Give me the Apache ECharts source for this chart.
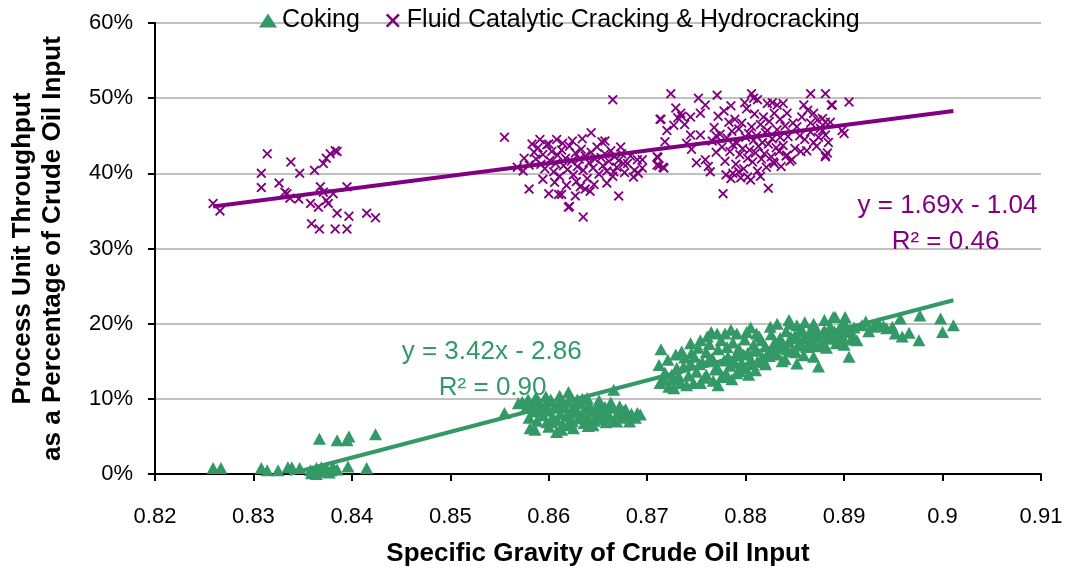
<!DOCTYPE html>
<html>
<head>
<meta charset="utf-8">
<script src="https://cdn.jsdelivr.net/npm/echarts@6/dist/echarts.min.js"></script>
<style>
  html, body { margin: 0; padding: 0; background: #fff; }
  #chart { width: 1065px; height: 574px; }
</style>
</head>
<body>
<div id="chart"></div>
<script>
// Specific gravity (x) vs. process unit throughput in % of crude input (y)
const cokingPoints = [
  [0.8259,0.8],[0.8267,0.8],[0.8308,0.8],[0.8314,0.5],[0.8325,0.5],[0.8335,0.9],[0.8339,0.9],[0.8347,0.8],
  [0.8358,0.5],[0.8359,0.1],[0.8364,0.8],[0.8364,0.0],[0.8369,0.9],[0.8374,0.8],[0.8379,0.5],[0.8385,0.6],
  [0.8367,4.7],[0.8385,4.5],[0.8395,4.5],[0.8397,5.0],[0.8396,1.0],[0.8415,0.8],[0.8424,5.3],[0.8371,0.3],
  [0.8377,0.2],[0.8381,0.9],
  [0.8555,8.1],[0.8569,9.4],[0.8573,9.6],[0.8620,10.9],[0.8666,11.2],[0.8581,6.1],[0.8586,5.9],[0.8608,5.6],
  [0.8613,5.9],[0.8690,8.1],[0.8693,7.9],
  [0.8577,8.8],[0.8580,7.5],[0.8583,9.2],[0.8585,8.3],[0.8588,7.1],[0.8590,9.6],[0.8592,8.6],[0.8594,7.8],
  [0.8596,9.0],[0.8598,6.9],[0.8600,8.4],[0.8602,9.9],[0.8604,7.6],[0.8606,8.8],[0.8608,7.2],[0.8610,9.3],
  [0.8612,8.0],[0.8614,6.6],[0.8616,8.9],[0.8618,7.7],[0.8620,9.6],[0.8622,8.2],[0.8624,7.0],[0.8626,9.1],
  [0.8628,8.5],[0.8630,7.4],[0.8632,9.4],[0.8634,8.0],[0.8636,6.8],[0.8638,8.7],[0.8640,7.5],[0.8642,9.0],
  [0.8644,8.3],[0.8646,7.1],[0.8648,8.6],[0.8650,7.8],[0.8652,9.2],[0.8654,7.3],[0.8656,8.4],[0.8658,6.9],
  [0.8660,8.0],[0.8662,7.6],[0.8664,8.8],[0.8667,7.2],[0.8670,8.1],[0.8673,7.5],[0.8676,8.3],[0.8680,7.7],
  [0.8684,8.0],[0.8600,6.3],[0.8625,6.1],[0.8640,6.4],[0.8597,10.3],[0.8634,10.0],
  [0.8579,9.9],[0.8587,10.2],[0.8603,6.9],[0.8611,10.4],[0.8619,6.5],[0.8629,9.9],[0.8639,10.1],[0.8645,6.5],
  [0.8651,9.8],[0.8657,8.9],[0.8663,9.5],[0.8669,7.0],[0.8672,9.0],[0.8678,8.6],[0.8682,7.0],[0.8688,7.5],
  [0.8713,12.1],[0.8714,16.6],[0.8712,14.5],[0.8717,12.5],[0.8722,11.6],[0.8727,11.4],[0.8730,14.1],[0.8735,16.3],
  [0.8744,17.4],[0.8744,14.7],[0.8734,12.1],[0.8740,11.8],[0.8747,12.1],[0.8754,12.1],[0.8772,11.8],[0.8779,12.9],
  [0.8791,13.4],[0.8810,13.8],[0.8754,17.8],[0.8761,18.3],[0.8771,18.7],[0.8779,18.7],[0.8791,18.7],[0.8801,18.9],
  [0.8811,18.7],[0.8832,20.0],[0.8844,20.5],[0.8852,19.8],[0.8869,20.0],[0.8852,14.7],[0.8874,14.3],[0.8859,15.8],
  [0.8869,15.6],[0.8889,20.9],[0.8957,20.7],[0.8977,21.1],[0.8998,20.7],[0.9011,19.8],[0.8959,18.3],[0.8966,18.8],
  [0.8976,17.8],[0.9000,18.9],[0.8905,15.6],[0.8891,20.9],[0.8901,20.9],[0.8922,20.3],[0.8930,19.6],[0.8943,19.4],
  [0.8949,19.6],[0.8952,18.7],[0.8909,18.2],[0.8913,17.8],
  [0.8748,15.6],[0.8752,16.8],[0.8756,14.9],[0.8760,16.2],[0.8763,17.3],[0.8766,15.4],[0.8769,13.9],[0.8772,16.6],
  [0.8775,17.8],[0.8778,15.1],[0.8781,16.9],[0.8784,14.4],[0.8787,17.5],[0.8790,15.8],[0.8793,16.7],[0.8796,14.8],
  [0.8799,17.9],[0.8802,16.1],[0.8805,15.2],[0.8808,17.2],[0.8811,16.4],[0.8814,18.3],[0.8817,15.5],[0.8820,17.0],
  [0.8823,16.2],[0.8826,18.6],[0.8829,17.4],[0.8832,15.9],[0.8835,18.1],[0.8838,16.8],[0.8841,19.0],[0.8844,17.6],
  [0.8847,16.3],[0.8850,18.4],[0.8853,17.1],[0.8856,19.2],[0.8859,18.0],[0.8862,16.9],[0.8865,18.8],[0.8868,17.6],
  [0.8871,19.4],[0.8874,18.3],[0.8877,17.2],[0.8880,19.1],[0.8883,18.0],[0.8886,19.6],[0.8889,18.5],[0.8892,17.4],
  [0.8895,19.3],[0.8898,18.4],[0.8901,19.9],[0.8904,18.9],[0.8907,17.9],[0.8780,13.4],[0.8800,14.1],[0.8760,13.2],
  [0.8820,14.6],[0.8840,15.3],[0.8725,13.2],[0.8738,15.5],[0.8765,18.9],[0.8785,19.2],[0.8805,19.5],[0.8825,19.6],
  [0.8845,20.0],[0.8860,20.2],[0.8880,20.5],
  [0.8718,13.5],[0.8721,15.2],[0.8726,12.6],[0.8729,15.9],[0.8732,13.0],[0.8737,14.3],[0.8742,13.1],[0.8745,16.1],
  [0.8750,13.6],[0.8753,14.6],[0.8758,12.8],[0.8762,15.0],[0.8767,12.4],[0.8771,14.2],[0.8776,13.0],[0.8782,15.6],
  [0.8786,12.6],[0.8789,14.8],[0.8794,13.7],[0.8798,15.9],[0.8803,13.2],[0.8807,14.6],[0.8812,15.0],[0.8816,17.8],
  [0.8819,14.9],[0.8824,15.7],[0.8828,16.2],[0.8833,17.0],[0.8837,15.0],[0.8842,16.6],[0.8846,18.2],[0.8851,16.2],
  [0.8855,17.5],[0.8858,19.0],[0.8864,17.3],[0.8867,19.3],[0.8873,17.0],[0.8878,18.7],[0.8882,16.8],[0.8885,18.2],
  [0.8890,19.0],[0.8894,18.0],[0.8897,19.6],[0.8900,17.2],[0.8906,19.2],[0.8910,19.5],[0.8918,19.8],[0.8925,19.0],
  [0.8935,20.1],[0.8940,19.7]
];

const crackingPoints = [
  [0.8259,36.0],[0.8266,35.0],[0.8314,42.6],[0.8308,40.0],[0.8308,38.1],[0.8326,38.7],[0.8338,41.5],[0.8334,37.3],
  [0.8337,36.7],[0.8347,40.0],[0.8346,36.6],[0.8358,36.0],[0.8362,40.4],[0.8366,35.5],[0.8359,33.3],[0.8367,32.6],
  [0.8368,38.2],[0.8371,41.3],[0.8374,42.0],[0.8378,42.6],[0.8383,43.0],[0.8385,42.9],[0.8371,37.5],[0.8374,36.4],
  [0.8376,36.0],[0.8381,37.3],[0.8385,34.7],[0.8383,32.6],[0.8395,38.2],[0.8397,34.3],[0.8395,32.6],[0.8415,34.7],
  [0.8424,34.1],[0.8332,37.5],
  [0.8555,44.8],[0.8568,40.8],[0.8574,40.3],[0.8580,37.9],[0.8591,44.5],[0.8600,37.3],[0.8608,44.5],[0.8610,37.2],
  [0.8613,37.2],[0.8620,35.5],[0.8621,35.6],[0.8624,44.3],[0.8627,37.0],[0.8635,34.2],[0.8637,37.9],[0.8643,45.4],
  [0.8657,44.3],[0.8659,38.7],[0.8665,49.8],[0.8671,37.0],[0.8673,43.5],[0.8676,41.3],[0.8690,41.8],[0.8687,40.4],
  [0.8691,40.0],[0.8710,42.2],[0.8712,41.0],[0.8716,40.8],[0.8713,47.2],
  [0.8585,42.8],[0.8587,41.9],[0.8589,43.4],[0.8592,41.2],[0.8594,42.5],[0.8596,40.6],[0.8598,43.8],[0.8601,41.7],
  [0.8603,42.9],[0.8605,40.2],[0.8607,41.3],[0.8609,42.4],[0.8611,39.6],[0.8613,43.1],[0.8615,41.0],[0.8617,42.0],
  [0.8619,40.5],[0.8621,43.6],[0.8623,41.6],[0.8625,39.8],[0.8627,42.7],[0.8629,40.9],[0.8631,41.9],[0.8633,43.2],
  [0.8635,40.4],[0.8637,42.3],[0.8639,39.3],[0.8641,41.4],[0.8643,42.8],[0.8645,40.7],[0.8647,41.9],[0.8649,43.5],
  [0.8651,39.9],[0.8653,42.1],[0.8655,41.0],[0.8657,42.6],[0.8659,40.3],[0.8661,41.6],[0.8663,43.0],[0.8665,39.6],
  [0.8667,42.2],[0.8669,40.8],[0.8671,41.7],[0.8674,42.6],[0.8677,40.1],[0.8680,41.3],[0.8683,42.3],[0.8686,39.5],
  [0.8594,39.2],[0.8606,38.8],[0.8618,38.4],[0.8628,38.9],[0.8646,38.5],[0.8654,44.2],[0.8634,44.6],[0.8614,44.0],
  [0.8600,43.9],[0.8666,40.2],[0.8575,42.0],[0.8580,41.1],[0.8583,43.9],[0.8632,38.2],[0.8642,37.6],
  [0.8695,41.8],[0.8695,40.7],[0.8711,42.1],[0.8710,41.1],[0.8717,40.7],[0.8714,47.2],[0.8718,44.2],[0.8720,45.7],
  [0.8724,50.6],[0.8727,46.4],[0.8729,48.7],[0.8731,47.4],[0.8734,48.0],[0.8735,47.6],[0.8738,46.5],[0.8744,47.5],
  [0.8744,45.1],[0.8752,50.0],[0.8754,48.0],[0.8754,45.1],[0.8759,49.1],[0.8759,41.8],[0.8762,40.9],[0.8764,40.2],
  [0.8771,50.4],[0.8777,37.3],[0.8806,50.6],[0.8808,50.0],[0.8823,38.0],[0.8866,50.6],[0.8881,50.6],[0.8887,49.1],
  [0.8787,40.0],[0.8795,39.4],[0.8802,39.5],[0.8805,39.1],[0.8785,39.3],[0.8828,41.5],[0.8842,42.4],[0.8847,41.8],
  [0.8850,43.3],[0.8848,46.7],[0.8852,46.2],[0.8859,49.1],[0.8863,48.4],[0.8869,48.0],[0.8866,46.7],[0.8873,47.1],
  [0.8876,46.0],[0.8881,46.8],[0.8866,45.5],[0.8869,44.1],[0.8884,44.1],[0.8883,42.7],[0.8881,42.2],[0.8822,49.3],
  [0.8827,49.4],[0.8832,49.1],[0.8838,49.3],[0.8818,47.5],[0.8829,48.0],[0.8835,47.2],[0.8842,48.0],[0.8835,44.8],
  [0.8822,45.7],[0.8888,49.1],[0.8905,49.5],[0.8878,47.3],[0.8886,46.8],[0.8878,45.7],[0.8881,45.1],[0.8898,45.7],
  [0.8900,45.3],[0.8881,42.4],[0.8860,44.5],[0.8856,42.9],[0.8872,43.6],
  [0.8766,44.3],[0.8768,46.1],[0.8770,42.8],[0.8772,47.6],[0.8774,45.2],[0.8776,43.5],[0.8778,48.3],[0.8779,41.6],
  [0.8781,44.7],[0.8783,46.8],[0.8784,42.9],[0.8786,45.6],[0.8787,43.8],[0.8789,47.2],[0.8790,41.2],[0.8791,44.0],
  [0.8793,45.9],[0.8794,42.5],[0.8796,46.7],[0.8797,43.3],[0.8798,40.6],[0.8800,44.8],[0.8801,48.6],[0.8802,42.0],
  [0.8803,45.3],[0.8804,43.1],[0.8806,46.2],[0.8807,41.5],[0.8808,44.4],[0.8809,47.9],[0.8810,42.7],[0.8811,45.0],
  [0.8812,40.3],[0.8813,43.6],[0.8815,46.5],[0.8816,41.9],[0.8817,44.1],[0.8819,42.6],[0.8820,45.4],[0.8821,40.8],
  [0.8823,43.9],[0.8824,46.9],[0.8826,42.2],[0.8827,44.6],[0.8829,41.3],[0.8831,43.4],[0.8832,45.8],[0.8834,42.9],
  [0.8836,40.9],[0.8838,43.7],[0.8840,46.3],[0.8841,42.3],[0.8843,44.9],[0.8845,41.6],[0.8780,39.8],[0.8793,40.2],
  [0.8815,39.6],[0.8799,49.4],[0.8785,49.0],[0.8812,49.8],[0.8770,45.0],[0.8855,45.0],[0.8862,43.0],[0.8874,44.8],
  [0.8857,47.5],[0.8745,43.2],[0.8750,41.4],[0.8740,44.0]
];

// Linear fits (fraction of input vs. specific gravity); labels show them rounded
const cokingFit = { slope: 3.4249, intercept: -2.8551, r2: 0.90 };
const crackingFit = { slope: 1.69, intercept: -1.04, r2: 0.46 };

const xTicks = ['0.82','0.83','0.84','0.85','0.86','0.87','0.88','0.89','0.9','0.91'];
const yTicks = ['0%','10%','20%','30%','40%','50%','60%'];

const GREEN = '#339966';
const PURPLE = '#800080';
const FONT = '"Liberation Sans", Arial, sans-serif';

// thin diagonal cross marker
const crossSymbol = 'path://M1.3,0L5,3.7L8.7,0L10,1.3L6.3,5L10,8.7L8.7,10L5,6.3L1.3,10L0,8.7L3.7,5L0,1.3Z';

// both fits span the common gravity range of the sample
const allX = cokingPoints.concat(crackingPoints).map(p => p[0]);
const xLo = Math.min(...allX);
const xHi = Math.max(...allX);

function fitLine(fit) {
  let x0 = xLo;
  // keep the line inside the 0% floor
  if (fit.slope * x0 + fit.intercept < 0) x0 = -fit.intercept / fit.slope;
  return [x0, xHi].map(x => [x, (fit.slope * x + fit.intercept) * 100]);
}

function eqText(fit) {
  const sign = fit.intercept < 0 ? '-' : '+';
  return 'y = ' + fit.slope.toFixed(2) + 'x ' + sign + ' ' + Math.abs(fit.intercept).toFixed(2);
}

const chart = echarts.init(document.getElementById('chart'), null, { renderer: 'canvas' });

const option = {
  animation: false,
  backgroundColor: '#ffffff',
  textStyle: { fontFamily: FONT },
  grid: { left: 155, right: 24, top: 23, bottom: 100, containLabel: false, outerBoundsMode: 'none' },
  legend: {
    top: 3,
    left: 254,
    itemGap: 26,
    itemWidth: 18,
    itemHeight: 14,
    textStyle: { fontFamily: FONT, fontSize: 25, color: '#000' },
    data: [
      { name: 'Coking', icon: 'triangle', itemStyle: { color: GREEN } },
      { name: 'Fluid Catalytic Cracking & Hydrocracking', icon: crossSymbol, itemStyle: { color: PURPLE } }
    ]
  },
  xAxis: {
    type: 'value',
    min: 0.82,
    max: 0.91,
    interval: 0.01,
    name: 'Specific Gravity of Crude Oil Input',
    nameLocation: 'middle',
    nameGap: 67,
    nameTextStyle: { fontFamily: FONT, fontSize: 26, fontWeight: 'bold', color: '#000' },
    axisLine: { lineStyle: { color: '#000', width: 2 } },
    axisTick: { show: true, inside: false, length: 7, lineStyle: { color: '#000', width: 2 } },
    axisLabel: {
      fontFamily: FONT, fontSize: 22, color: '#000', margin: 32,
      formatter: (v) => xTicks[Math.round((v - 0.82) / 0.01)]
    },
    splitLine: { show: false }
  },
  yAxis: {
    type: 'value',
    min: 0,
    max: 60,
    interval: 10,
    name: 'Process Unit Throughput\nas a Percentage of Crude Oil Input',
    nameLocation: 'middle',
    nameGap: 87,
    nameTextStyle: { fontFamily: FONT, fontSize: 26, fontWeight: 'bold', color: '#000', lineHeight: 30 },
    axisLine: { show: true, lineStyle: { color: '#000', width: 2 } },
    axisTick: { show: true, inside: false, length: 7, lineStyle: { color: '#000', width: 2 } },
    axisLabel: {
      fontFamily: FONT, fontSize: 22, color: '#000', margin: 22,
      formatter: (v) => yTicks[Math.round(v / 10)]
    },
    splitLine: { show: true, lineStyle: { color: '#c0c0c0', width: 2 } }
  },
  series: [
    {
      name: 'Coking',
      type: 'scatter',
      symbol: 'triangle',
      symbolSize: [13, 12],
      itemStyle: { color: GREEN, opacity: 1 },
      data: cokingPoints,
      z: 3
    },
    {
      name: 'Fluid Catalytic Cracking & Hydrocracking',
      type: 'scatter',
      symbol: crossSymbol,
      symbolSize: 10,
      itemStyle: { color: PURPLE, opacity: 1 },
      data: crackingPoints,
      z: 3
    },
    {
      name: 'Coking fit',
      type: 'line',
      data: fitLine(cokingFit),
      showSymbol: false,
      symbol: 'none',
      lineStyle: { color: GREEN, width: 4 },
      z: 2,
      silent: true
    },
    {
      name: 'Cracking fit',
      type: 'line',
      data: fitLine(crackingFit),
      showSymbol: false,
      symbol: 'none',
      lineStyle: { color: PURPLE, width: 4 },
      z: 2,
      silent: true
    }
  ]
};

chart.setOption(option);

// regression annotations placed in data coordinates
function place(x, y) { return chart.convertToPixel({ gridIndex: 0 }, [x, y]); }
const pEq = place(0.9005, 35.7);
const pR = place(0.9003, 30.9);
const gEq = place(0.8542, 16.3);
const gR = place(0.8543, 11.4);
const annoFont = '26px ' + FONT;

chart.setOption({
  graphic: [
    { type: 'text', x: pEq[0], y: pEq[1], style: { text: eqText(crackingFit), fill: PURPLE, font: annoFont, align: 'center', verticalAlign: 'middle' } },
    { type: 'text', x: pR[0], y: pR[1], style: { text: 'R\u00B2 = ' + crackingFit.r2.toFixed(2), fill: PURPLE, font: annoFont, align: 'center', verticalAlign: 'middle' } },
    { type: 'text', x: gEq[0], y: gEq[1], style: { text: eqText(cokingFit), fill: GREEN, font: annoFont, align: 'center', verticalAlign: 'middle' } },
    { type: 'text', x: gR[0], y: gR[1], style: { text: 'R\u00B2 = ' + cokingFit.r2.toFixed(2), fill: GREEN, font: annoFont, align: 'center', verticalAlign: 'middle' } }
  ]
});
</script>
</body>
</html>
